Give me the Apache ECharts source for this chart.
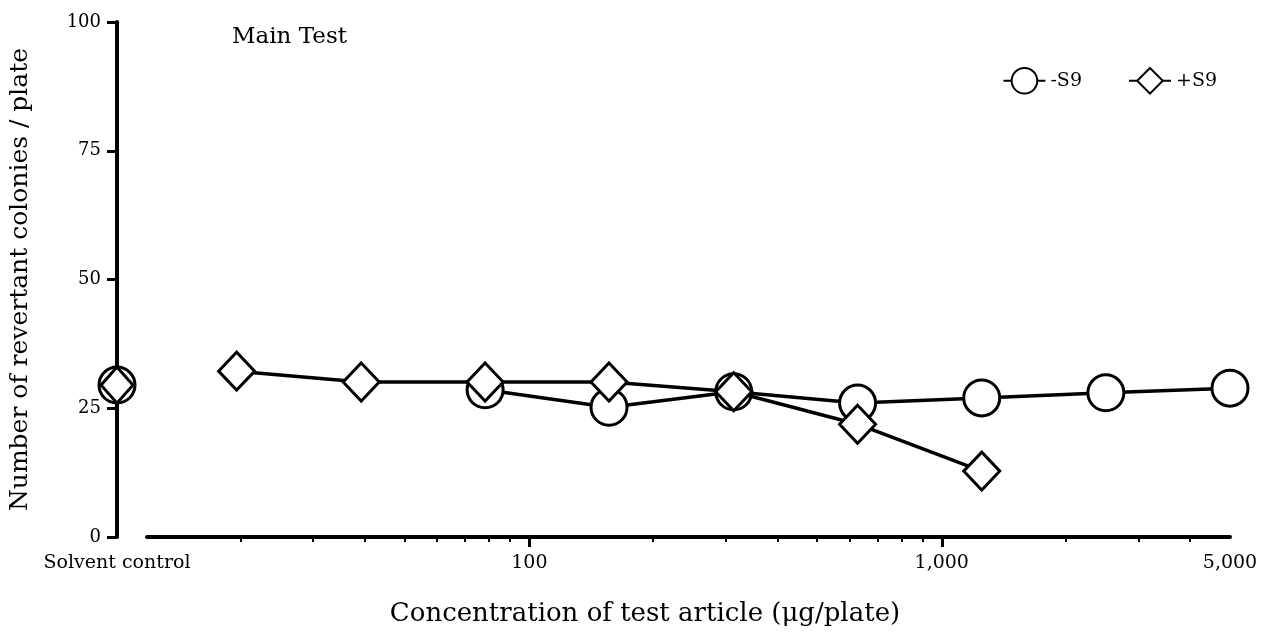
<!DOCTYPE html>
<html>
<head>
<meta charset="utf-8">
<title>Main Test</title>
<script src="https://cdn.jsdelivr.net/npm/echarts@6/dist/echarts.min.js"></script>
<style>
  html, body { margin: 0; padding: 0; background: #fff; }
  #chart { width: 1264px; height: 635px; }
</style>
</head>
<body>
<div id="chart"></div>
<script>
// doses (µg/plate), solvent control sits at the left end of the log axis
const doses = [19.5, 39.1, 78.1, 156, 313, 625, 1250, 2500, 5000];
const minusS9 = [null, null, 28.6, 25.2, 28.2, 26.0, 27.0, 28.0, 28.9];
const plusS9 = [32.2, 30.1, 30.1, 30.1, 28.2, 21.9, 12.8, null, null];
const controlMinusS9 = 29.5;
const controlPlusS9 = 29.5;
const solventPos = 10;

const xLabelValues = [10, 100, 1000, 5000];
const xMajorTicks = [100, 1000];
const xMinorTicks = [20, 30, 40, 50, 60, 70, 80, 90, 200, 300, 400, 500, 600, 700, 800, 900, 2000, 3000, 4000];
const yTicks = { min: 0, max: 100, interval: 25 };

const FONT = "DejaVu Serif";

const toPairs = (vals) =>
  doses.map((d, i) => [d, vals[i]]).filter((p) => p[1] !== null);

// layout
const plotLeft = 116;
const plotRight = 34;
const lineStart = 147; // x axis line starts a bit right of the y axis
const plotWidth = 1264 - plotLeft - plotRight;
const decadePx = plotWidth / Math.log10(5000 / solventPos);
const lineMin = Math.pow(10, Math.log10(solventPos) + (lineStart - plotLeft) / decadePx);

const chart = echarts.init(document.getElementById("chart"));

const markerStyle = { color: "#fff", borderColor: "#000", borderWidth: 3 };

chart.setOption({
  animation: false,
  backgroundColor: "#fff",
  textStyle: { fontFamily: FONT, color: "#000" },
  title: [
    {
      text: "Main Test",
      left: 227,
      top: 21,
      textStyle: { fontFamily: FONT, fontSize: 23, fontWeight: "normal", color: "#000" },
    },
    {
      text: "Concentration of test article (μg/plate)",
      left: 640,
      textAlign: "center",
      top: 596,
      textStyle: { fontFamily: FONT, fontSize: 26, fontWeight: "normal", color: "#000" },
    },
  ],
  legend: {
    right: 42,
    top: 62,
    itemWidth: 42,
    itemHeight: 32,
    itemGap: 46,
    textStyle: { fontFamily: FONT, fontSize: 19, color: "#000" },
    data: ["-S9", "+S9"],
  },
  grid: [
    { left: plotLeft, right: plotRight, top: 22, bottom: 98 },
    { left: lineStart, right: plotRight, top: 22, bottom: 98 },
  ],
  xAxis: [
    {
      type: "log",
      logBase: 10,
      gridIndex: 0,
      min: solventPos,
      max: 5000,
      axisLine: { show: false },
      axisTick: {
        show: true,
        customValues: xMajorTicks,
        length: 10,
        lineStyle: { color: "#000", width: 3 },
      },
      axisLabel: {
        customValues: xLabelValues,
        margin: 17,
        fontFamily: FONT,
        fontSize: 19,
        color: "#000",
        formatter: (v) => (Math.round(v) === solventPos ? "Solvent control" : Math.round(v).toLocaleString("en-US")),
      },
      splitLine: { show: false },
      minorTick: { show: false },
    },
    {
      type: "log",
      logBase: 10,
      gridIndex: 1,
      min: lineMin,
      max: 5000,
      axisLine: { show: true, lineStyle: { color: "#000", width: 4 } },
      axisTick: {
        show: true,
        customValues: xMinorTicks,
        length: 5,
        lineStyle: { color: "#000", width: 2 },
      },
      axisLabel: { show: false },
      splitLine: { show: false },
    },
  ],
  yAxis: [
    {
      type: "value",
      gridIndex: 0,
      min: yTicks.min,
      max: yTicks.max,
      interval: yTicks.interval,
      name: "Number of revertant colonies / plate",
      nameLocation: "middle",
      nameGap: 84,
      nameTextStyle: { fontFamily: FONT, fontSize: 25, color: "#000" },
      axisLine: { show: true, lineStyle: { color: "#000", width: 4 } },
      axisTick: { show: true, length: 10, lineStyle: { color: "#000", width: 3 } },
      axisLabel: { margin: 16, fontFamily: FONT, fontSize: 18, color: "#000" },
      splitLine: { show: false },
    },
    {
      type: "value",
      gridIndex: 1,
      min: 0,
      max: 100,
      show: false,
    },
  ],
  series: [
    {
      name: "-S9",
      type: "line",
      data: toPairs(minusS9),
      symbol: "circle",
      symbolSize: 36,
      lineStyle: { color: "#000", width: 3.5 },
      itemStyle: markerStyle,
      z: 2,
    },
    {
      name: "+S9",
      type: "line",
      data: toPairs(plusS9),
      symbol: "diamond",
      symbolSize: [36, 38],
      lineStyle: { color: "#000", width: 3.5 },
      itemStyle: markerStyle,
      z: 3,
    },
    {
      name: "-S9",
      type: "line",
      data: [[solventPos, controlMinusS9]],
      symbol: "circle",
      symbolSize: 36,
      itemStyle: markerStyle,
      z: 4,
    },
    {
      name: "+S9",
      type: "line",
      data: [[solventPos, controlPlusS9]],
      symbol: "diamond",
      symbolSize: [32, 36],
      itemStyle: markerStyle,
      z: 5,
    },
  ],
});
</script>
</body>
</html>
